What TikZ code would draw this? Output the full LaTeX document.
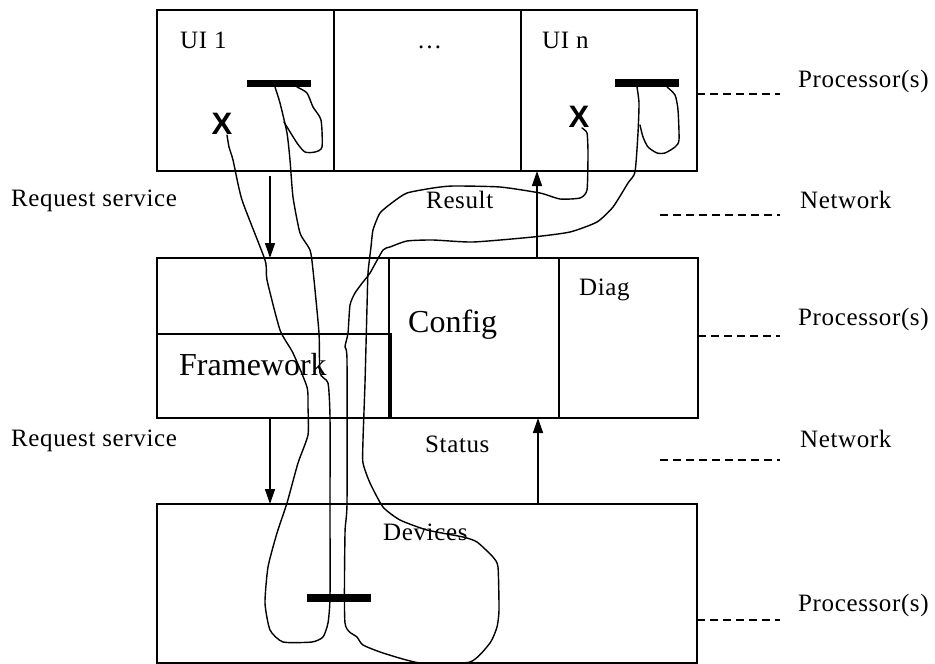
\documentclass[tikz,border=0pt]{standalone}
\usepackage{fontspec}
\setmainfont{Liberation Serif}
\newfontfamily\spaced{Liberation Serif}[LetterSpace=2.5]
\newfontfamily\xfont{Liberation Sans}
\usetikzlibrary{arrows.meta}
\begin{document}
\begin{tikzpicture}[x=1pt,y=-1pt,
  box/.style={draw, line width=2pt, inner sep=0pt, outer sep=0pt, anchor=north west},
  thinbox/.style={draw, line width=1.5pt, inner sep=0pt, outer sep=0pt, anchor=north west},
  lbl/.style={anchor=base west, inner sep=0pt, font=\spaced\fontsize{25}{30}\selectfont},
  big/.style={anchor=base west, inner sep=0pt, font=\fontsize{32}{38}\selectfont},
  barbox/.style={fill=black, inner sep=0pt, outer sep=0pt, anchor=north west},
  xmark/.style={inner sep=0pt, font=\xfont\bfseries\fontsize{31}{31}\selectfont},
  curve/.style={line width=1.4pt, line join=round, line cap=round},
  arr/.style={line width=1.5pt, -{Triangle[length=15pt,width=10pt]}},
  dashln/.style={line width=1.3pt, dash pattern=on 8pt off 5pt}]
\path[use as bounding box] (0,0) rectangle (935,664);

% top processor row
\node[box, minimum width=177pt, minimum height=161pt] (ui1) at (157,10) {};
\node[box, minimum width=187pt, minimum height=161pt] (uidots) at (334,10) {};
\node[box, minimum width=176pt, minimum height=161pt] (uin) at (521,10) {};

% middle processor row
\node[box, minimum width=541pt, minimum height=160pt] (mid) at (157,258) {};
\node[thinbox, minimum width=234pt, minimum height=84pt] (fw) at (157,334) {};
\node[thinbox, minimum width=170pt, minimum height=160pt] (cfg) at (389,258) {};
\node[box, minimum width=139pt, minimum height=160pt] (diag) at (559,258) {};

% bottom processor row
\node[box, minimum width=540pt, minimum height=159pt] (dev) at (157,504) {};

% bars
\node[barbox, minimum width=64pt, minimum height=7pt] (bar1) at (247,80) {};
\node[barbox, minimum width=64pt, minimum height=8pt] (bar2) at (615,79) {};
\node[barbox, minimum width=64pt, minimum height=8pt] (bar3) at (307,594) {};

% X marks
\node[xmark] (x1) at (222,124) {X};
\node[xmark] (x2) at (579,117) {X};

% texts
\node[lbl] (t-ui1) at (180,48) {UI 1};
\node[lbl] (t-dots) at (417,48) {…};
\node[lbl] (t-uin) at (542,48) {UI n};
\node[lbl] (t-p1) at (798,87) {Processor(s)};
\node[lbl] (t-n1) at (800,208) {Network};
\node[lbl] (t-p2) at (798,325) {Processor(s)};
\node[lbl] (t-n2) at (800,447) {Network};
\node[lbl] (t-p3) at (798,611) {Processor(s)};
\node[lbl] (t-rq1) at (11,206) {Request service};
\node[lbl] (t-rq2) at (11,446) {Request service};
\node[lbl] (t-res) at (426,208) {Result};
\node[lbl] (t-sta) at (425,452) {Status};
\node[lbl] (t-dev) at (383,540) {Devices};
\node[lbl] (t-diag) at (579,295) {Diag};
\node[big] (t-cfg) at (408,332) {Config};
\node[big] (t-fw) at (179,375) {Framework};

% arrows
\coordinate (a1) at (270,176);
\draw[arr] (a1) -- (a1 |- mid.north);
\coordinate (a2) at (270,418);
\draw[arr] (a2) -- (a2 |- dev.north);
\coordinate (a3) at (537,258);
\draw[arr] (a3) -- (a3 |- uin.south);
\coordinate (a4) at (538,504);
\draw[arr] (a4) -- (a4 |- mid.south);

% dashed level lines
\coordinate (d1) at (780,94);
\draw[dashln] (d1 -| uin.east) -- (d1);
\coordinate (d2) at (780,336);
\draw[dashln] (d2 -| diag.east) -- (d2);
\coordinate (d3) at (780,620);
\draw[dashln] (d3 -| dev.east) -- (d3);
\coordinate (n1a) at (660,215);
\coordinate (n1b) at (780,215);
\draw[dashln] (n1a) -- (n1b);
\coordinate (n2a) at (660,460);
\coordinate (n2b) at (780,460);
\draw[dashln] (n2a) -- (n2b);

% freehand curve of UI 1
\draw[curve] plot[smooth, tension=0.35] coordinates {
 (275,87) (280,103) (287,133) (290,160) (293,197) (300,233) (310,250) (313,270)
 (319,333) (320,373) (328,383) (330,417) (330,508) (330,597) (328,623) (323,637)
 (312,642) (283,642) (270,630) (265,603) (268,567) (277,533) (287,503) (298,463)
 (308,435) (308,407) (307,387) (293,353) (280,330) (267,280) (265,260) (242,200)
 (233,160) (229,147) (227,135)};
\draw[curve] plot[smooth, tension=0.4] coordinates {
 (297,87) (307,93) (313,107) (321,120) (322,147) (315,152) (305,152) (297,143) (284,122)};

% freehand curve of UI n
\draw[curve] plot[smooth, tension=0.35] coordinates {
 (582,128) (587,133) (588,153) (587,190) (580,198) (560,199) (540,193) (500,187)
 (453,186) (433,188) (407,193) (393,202) (380,213) (373,230) (371,247) (368,273)
 (367,307) (365,383) (363,440) (363,463) (370,483) (383,507) (400,520) (427,530)
 (463,537) (477,542) (493,557) (498,567) (499,610) (497,627) (490,643) (470,662)
 (420,663) (383,653) (363,645) (357,637) (345,623) (345,533) (347,503) (347,360)
 (345,347) (348,333) (350,305) (355,293) (363,282) (370,273) (383,250) (390,247)
 (407,241) (433,240) (473,242) (533,237) (570,232) (597,222) (613,207) (628,183)
 (635,172) (638,133) (639,103) (637,87)};
\draw[curve] plot[smooth, tension=0.4] coordinates {
 (667,87) (675,95) (678,110) (679,140) (675,147) (665,153) (657,153) (648,147) (643,137) (640,125)};
\end{tikzpicture}
\end{document}
